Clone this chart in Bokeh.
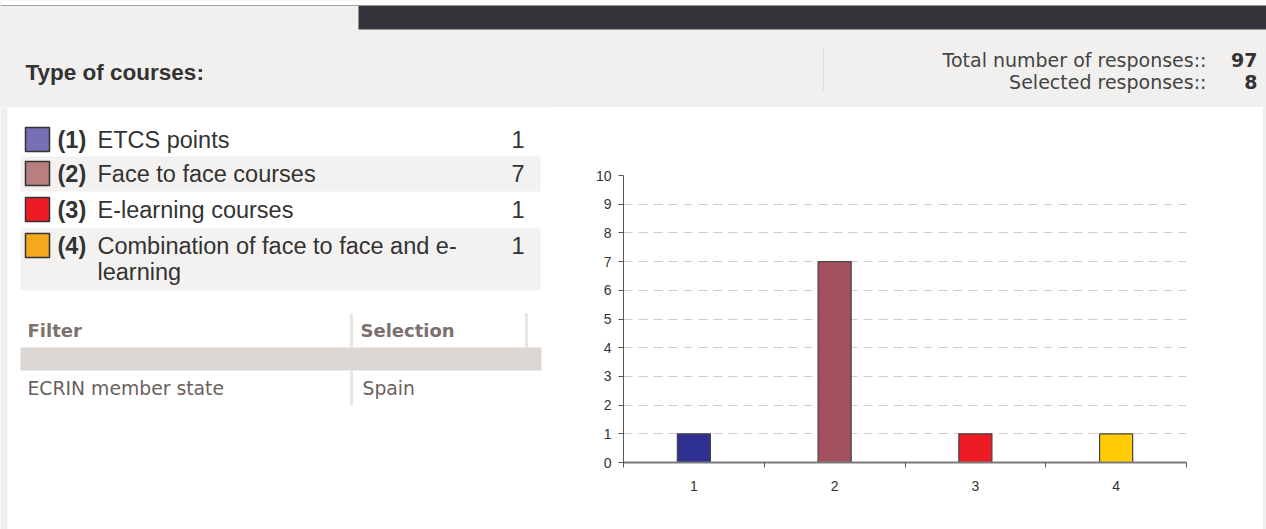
from bokeh.plotting import figure
from bokeh.layouts import column, row
from bokeh.models import Range1d, FixedTicker, Spacer
from bokeh.core.properties import value
from bokeh.embed import file_html
from bokeh.resources import INLINE

# ---- data ----
question = "Type of courses:"
categories = ["1", "2", "3", "4"]
option_labels = [
    ["ETCS points"],
    ["Face to face courses"],
    ["E-learning courses"],
    ["Combination of face to face and e-", "learning"],
]
counts = [1, 7, 1, 1]
swatch_colors = ["#7770b4", "#b97f80", "#ed1c24", "#f6a81c"]
bar_colors = ["#2e3192", "#a4505e", "#ed1c24", "#ffcc05"]
total_responses = 97
selected_responses = 8
filter_names = ["ECRIN member state"]
filter_values = ["Spain"]
y_ticks = list(range(0, 11))

PAGE_BG = "#f1f0ee"
DARK_BAR = "#35343a"
ARIAL = value("Liberation Sans")
VERDANA = value("DejaVu Sans")
W, H = 1266, 529
HEADER_H = 107
SPLIT = 553  # left panel width in page pixels


def blank(width, height, x0, x1, y_top, y_bottom):
    p = figure(width=width, height=height, output_backend="svg", toolbar_location=None,
               x_range=Range1d(x0, x1), y_range=Range1d(y_bottom, y_top), min_border=0)
    p.axis.visible = False
    p.grid.visible = False
    p.outline_line_color = None
    p.background_fill_color = PAGE_BG
    p.border_fill_color = PAGE_BG
    return p


# ---- page header ----
hdr = blank(W, HEADER_H, 0, W, 0, HEADER_H)
hdr.quad(left=-5, right=W + 5, top=-5, bottom=5, fill_color="white", line_color=None)
hdr.segment(x0=0, y0=5, x1=358, y1=5, line_color="#a2a2a2", line_width=1)
hdr.quad(left=358, right=W + 5, top=5, bottom=29, fill_color=DARK_BAR, line_color=None)
hdr.text(x=[25], y=[72], text=[question], text_font=ARIAL, text_font_style="bold",
         text_font_size="22.5px", text_color="#333333", text_baseline="middle")
hdr.segment(x0=823, y0=48, x1=823, y1=91, line_color="#e2e0dd", line_width=1)
hdr.text(x=[1206, 1206], y=[59, 81],
         text=["Total number of responses::", "Selected responses::"],
         text_font=VERDANA, text_font_size="19px", text_color="#444444",
         text_align="right", text_baseline="middle")
hdr.text(x=[1257, 1257], y=[59, 81], text=[str(total_responses), str(selected_responses)],
         text_font=VERDANA, text_font_style="bold", text_font_size="19px",
         text_color="#333333", text_align="right", text_baseline="middle")

# ---- left panel: options list and filter table ----
left = blank(SPLIT, H - HEADER_H, 0, SPLIT, HEADER_H, H)
left.quad(left=7, right=SPLIT + 5, top=HEADER_H, bottom=H + 5, fill_color="white", line_color=None)

row_tops = [122, 156, 192, 228]
row_bottoms = [156, 191, 227, 290]
for i, (lines, n) in enumerate(zip(option_labels, counts)):
    if i % 2 == 1:
        left.quad(left=20, right=540, top=row_tops[i], bottom=row_bottoms[i],
                  fill_color="#f3f2f0", line_color=None)
    yc = row_tops[i] + 17
    left.rect(x=[37], y=[yc], width=24, height=24, fill_color=swatch_colors[i],
              line_color="#333333", line_width=1.5)
    left.text(x=[57], y=[yc], text=[f"({categories[i]})"], text_font=ARIAL,
              text_font_style="bold", text_font_size="23.5px", text_color="#333333",
              text_baseline="middle")
    left.text(x=[97] * len(lines), y=[yc + 26 * k for k in range(len(lines))], text=lines,
              text_font=ARIAL, text_font_size="23.5px", text_color="#333333",
              text_baseline="middle")
    left.text(x=[524], y=[yc], text=[str(n)], text_font=ARIAL, text_font_size="23.5px",
              text_color="#333333", text_align="right", text_baseline="middle")

# filter table
left.text(x=[27, 360], y=[330, 330], text=["Filter", "Selection"], text_font=VERDANA,
          text_font_style="bold", text_font_size="18px", text_color="#7d716d",
          text_baseline="middle")
left.segment(x0=[351, 526], y0=[313, 313], x1=[351, 526], y1=[347, 347],
             line_color="#e8e5e2", line_width=3)
left.quad(left=20, right=541, top=347, bottom=370, fill_color="#dcd7d3", line_color=None)
for j, (name, val) in enumerate(zip(filter_names, filter_values)):
    yc = 388 + 35 * j
    left.text(x=[27], y=[yc], text=[name], text_font=VERDANA, text_font_size="18.8px",
              text_color="#6b5f5b", text_baseline="middle")
    left.text(x=[362], y=[yc], text=[val], text_font=VERDANA, text_font_size="18.8px",
              text_color="#6b5f5b", text_baseline="middle")
    left.segment(x0=351, y0=yc - 18, x1=351, y1=yc + 17, line_color="#e8e5e2", line_width=3)

# ---- bar chart ----
centers = [i + 0.5 for i in range(len(categories))]
chart = figure(width=710, height=H - HEADER_H, output_backend="svg", toolbar_location=None,
               x_range=Range1d(0, len(categories)), y_range=Range1d(0, 10),
               min_border_left=70, min_border_right=77, min_border_top=68, min_border_bottom=67)
chart.background_fill_color = "white"
chart.border_fill_color = "white"
chart.outline_line_color = None

chart.vbar(x=centers, top=counts, width=0.235, fill_color=bar_colors,
           line_color="#444444", line_width=1.2)

chart.xgrid.visible = False
chart.ygrid.ticker = FixedTicker(ticks=y_ticks[1:-1])
chart.ygrid.grid_line_color = "#d3cbc9"
chart.ygrid.grid_line_dash = "9 6"
chart.ygrid.grid_line_width = 1

xa = chart.xaxis[0]
xa.ticker = FixedTicker(ticks=centers, minor_ticks=list(range(len(categories) + 1)))
xa.major_label_overrides = {c: lab for c, lab in zip(centers, categories)}
xa.major_tick_in = 0
xa.major_tick_out = 0
xa.minor_tick_in = 0
xa.minor_tick_out = 5
xa.minor_tick_line_color = "#555555"
xa.axis_line_color = "#7a7a7a"
xa.axis_line_width = 2
xa.major_label_standoff = 13
xa.major_label_text_font = "Liberation Sans"
xa.major_label_text_font_size = "14px"
xa.major_label_text_color = "#333333"

ya = chart.yaxis[0]
ya.ticker = FixedTicker(ticks=y_ticks)
ya.major_tick_in = 0
ya.major_tick_out = 5
ya.minor_tick_line_color = None
ya.major_tick_line_color = "#555555"
ya.axis_line_color = "#555555"
ya.axis_line_width = 1
ya.major_label_standoff = 7
ya.major_label_text_font = "Liberation Sans"
ya.major_label_text_font_size = "14px"
ya.major_label_text_color = "#333333"

edge = Spacer(width=3, height=H - HEADER_H, styles={"background-color": PAGE_BG})

body = row(column(left), column(chart), edge, styles={"background-color": "white"})
page = column(hdr, body, styles={"background-color": PAGE_BG})
open("out.html", "w").write(file_html(page, INLINE))
